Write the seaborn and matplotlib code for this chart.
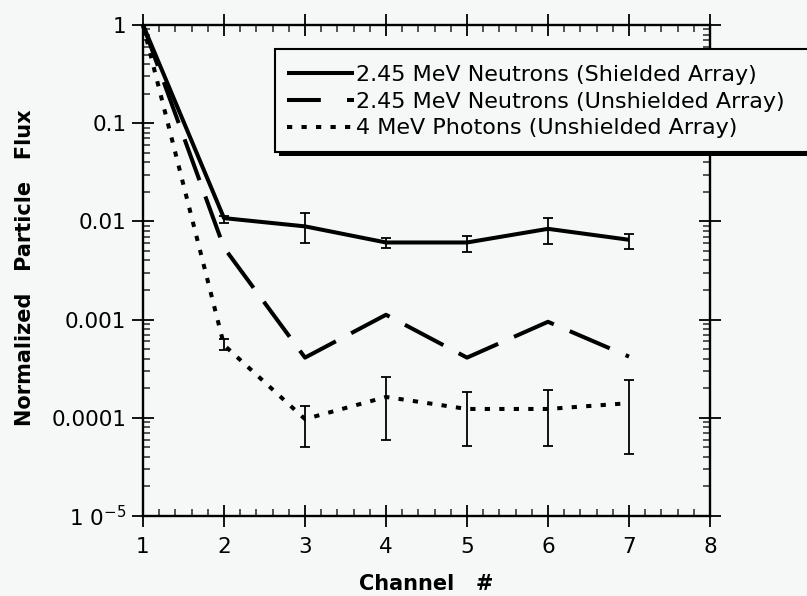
import numpy as np
import pandas as pd
import matplotlib
matplotlib.use("Agg")
import matplotlib.pyplot as plt
import seaborn as sns
from matplotlib.lines import Line2D
from matplotlib.patches import Rectangle
from matplotlib.ticker import FixedLocator, FixedFormatter, LogLocator, NullFormatter

# ---------------- data ----------------
channels = [1, 2, 3, 4, 5, 6, 7]
series_names = ["2.45 MeV Neutrons (Shielded Array)",
                "2.45 MeV Neutrons (Unshielded Array)",
                "4 MeV Photons (Unshielded Array)"]
shielded = [1.0, 0.0108, 0.0089, 0.0061, 0.0061, 0.0084, 0.0065]
shielded_lo = [np.nan, 0.0097, 0.0060, 0.0053, 0.0049, 0.0059, 0.0052]
shielded_hi = [np.nan, 0.0113, 0.0122, 0.0068, 0.0071, 0.0108, 0.0075]
unshielded = [1.0, 0.0054, 0.00041, 0.00112, 0.00041, 0.00095, 0.00042]
photons = [1.0, 0.00055, 0.000097, 0.000163, 0.000123, 0.000123, 0.000141]
photons_lo = [np.nan, 0.00049, 0.000051, 0.000059, 0.000052, 0.000052, 0.000043]
photons_hi = [np.nan, 0.00063, 0.000131, 0.000263, 0.000184, 0.000193, 0.000245]

y_ticks = [1e-5, 1e-4, 1e-3, 1e-2, 1e-1, 1]
y_ticklabels = ["1 0$^{-5}$", "0.0001", "0.001", "0.01", "0.1", "1"]
x_ticks = [1, 2, 3, 4, 5, 6, 7, 8]

df = pd.DataFrame({
    "channel": channels * 3,
    "flux": shielded + unshielded + photons,
    "series": sum([[n] * len(channels) for n in series_names], []),
})

# ---------------- style ----------------
sns.set_style("ticks")
plt.rcParams["font.family"] = ["DejaVu Sans"]
plt.rcParams["mathtext.fontset"] = "dejavusans"
plt.rcParams["text.color"] = "black"
plt.rcParams["axes.labelcolor"] = "black"
bg = "#f6f8f8"
W, H = 807, 596

fig = plt.figure(figsize=(W / 100, H / 100), dpi=100, facecolor=bg)
ax = fig.add_axes([143 / W, 1 - 516 / H, 567 / W, 491 / H])
ax.set_facecolor(bg)

lw = 2.9
dash_map = {series_names[0]: "", series_names[1]: (10.8, 4.3), series_names[2]: (1.3, 2.3)}
sns.lineplot(data=df, x="channel", y="flux", hue="series", style="series",
             palette=["black"] * 3, dashes=dash_map, linewidth=lw, ax=ax,
             legend=False, clip_on=False)
for ln in ax.lines:
    ln.set_dash_capstyle("butt")
    ln.set_solid_capstyle("butt")

# error bars
def add_err(vals, lo, hi):
    v = np.array(vals); l = np.array(lo); h = np.array(hi)
    m = ~np.isnan(l)
    ax.errorbar(np.array(channels)[m], v[m], yerr=[v[m] - l[m], h[m] - v[m]],
                fmt="none", ecolor="black", elinewidth=1.3, capsize=3.5, capthick=1.3)

add_err(shielded, shielded_lo, shielded_hi)
add_err(photons, photons_lo, photons_hi)

ax.set_yscale("log")
ax.set_ylim(1e-5, 1)
ax.set_xlim(1, 8)

ax.yaxis.set_major_locator(FixedLocator(y_ticks))
ax.yaxis.set_major_formatter(FixedFormatter(y_ticklabels))
ax.yaxis.set_minor_locator(LogLocator(base=10, subs=np.arange(2, 10)))
ax.yaxis.set_minor_formatter(NullFormatter())
ax.set_xticks(x_ticks)
ax.set_xticklabels([str(t) for t in x_ticks])
ax.set_xticks(np.arange(1, 8.01, 0.2), minor=True)

for s in ax.spines.values():
    s.set_visible(True)
    s.set_linewidth(1.7)
    s.set_color("black")

ax.tick_params(which="major", direction="inout", length=16, width=1.3,
               top=True, right=True, labelsize=15.5, colors="black")
ax.tick_params(which="minor", direction="in", length=5, width=1.1,
               top=True, right=True)
ax.tick_params(axis="x", which="major", pad=7)
ax.tick_params(axis="y", which="major", pad=4)

ax.set_xlabel("Channel   #", fontsize=15, fontweight="bold", color="black")
ax.set_ylabel("Normalized   Particle   Flux", fontsize=15, fontweight="bold", color="black")
ax.xaxis.set_label_coords(0.5, -0.118)
ax.yaxis.set_label_coords(-0.19, 0.506)

# legend box (frame drawn as patches so it can run off the right edge)
box = Rectangle((275 / W, 1 - 152 / H), (820 - 275) / W, (152 - 49) / H,
                transform=fig.transFigure, facecolor=bg, edgecolor="black",
                linewidth=1.5, zorder=8)
shadow = Rectangle((279 / W, 1 - 156 / H), (820 - 279) / W, 5 / H,
                   transform=fig.transFigure, facecolor="black", edgecolor="none",
                   zorder=7)
fig.patches.extend([shadow, box])

handles = [Line2D([], [], color="black", lw=lw, linestyle="-"),
           Line2D([], [], color="black", lw=lw, linestyle=(0, (8.4, 6.5))),
           Line2D([], [], color="black", lw=lw, linestyle=(0, (1.3, 2.3)))]
for h in handles:
    h.set_dash_capstyle("butt")
    h.set_solid_capstyle("butt")
leg = fig.legend(handles, series_names, loc="upper left",
                 bbox_to_anchor=(287 / W, 1 - 65 / H),
                 bbox_transform=fig.transFigure,
                 fontsize=16, handlelength=3.0, handletextpad=0.1,
                 labelspacing=0.3, borderpad=0, borderaxespad=0,
                 frameon=False, labelcolor="black")
leg.set_zorder(10)

fig.savefig("out.png", dpi=100, facecolor=bg)
